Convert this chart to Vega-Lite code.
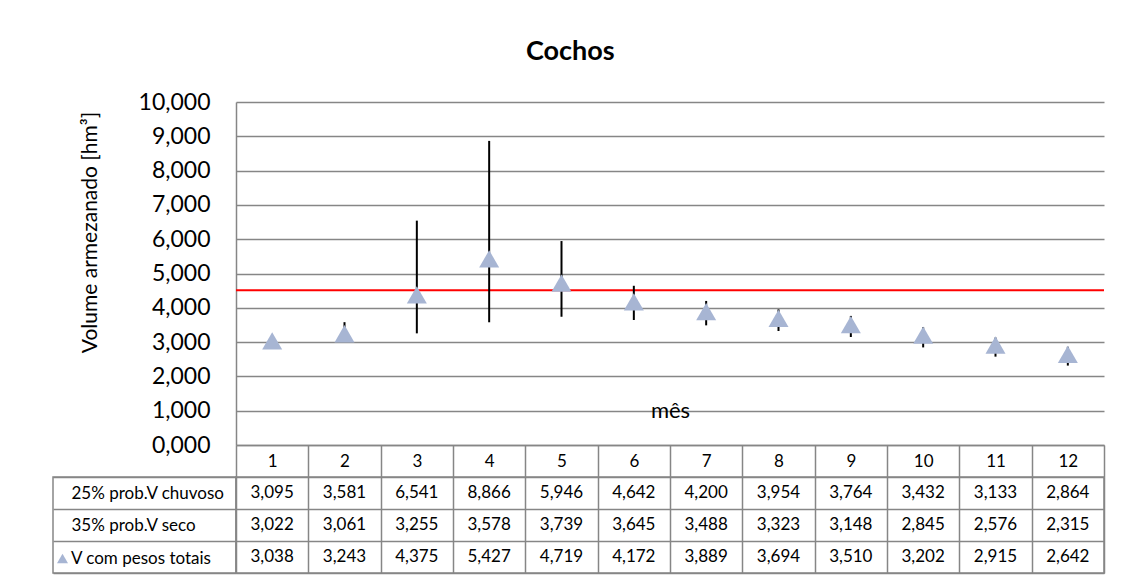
{
  "$schema": "https://vega.github.io/schema/vega-lite/v6.json",
  "padding": {"left": 51, "top": 38, "right": 5, "bottom": 5},
  "autosize": {"type": "pad"},
  "background": "white",
  "title": {"text": "Cochos", "font": "Lato", "fontSize": 27, "fontWeight": "bold", "color": "black", "anchor": "middle", "offset": 25, "dx": -8},
  "config": {
    "font": "Lato",
    "locale": {"number": {"decimal": ",", "thousands": ".", "grouping": [3], "currency": ["", ""]}},
    "view": {"stroke": null}
  },
  "datasets": {
    "meses": [
      {"mes": 1, "chuvoso": 3.095, "seco": 3.022, "total": 3.038},
      {"mes": 2, "chuvoso": 3.581, "seco": 3.061, "total": 3.243},
      {"mes": 3, "chuvoso": 6.541, "seco": 3.255, "total": 4.375},
      {"mes": 4, "chuvoso": 8.866, "seco": 3.578, "total": 5.427},
      {"mes": 5, "chuvoso": 5.946, "seco": 3.739, "total": 4.719},
      {"mes": 6, "chuvoso": 4.642, "seco": 3.645, "total": 4.172},
      {"mes": 7, "chuvoso": 4.200, "seco": 3.488, "total": 3.889},
      {"mes": 8, "chuvoso": 3.954, "seco": 3.323, "total": 3.694},
      {"mes": 9, "chuvoso": 3.764, "seco": 3.148, "total": 3.510},
      {"mes": 10, "chuvoso": 3.432, "seco": 2.845, "total": 3.202},
      {"mes": 11, "chuvoso": 3.133, "seco": 2.576, "total": 2.915},
      {"mes": 12, "chuvoso": 2.864, "seco": 2.315, "total": 2.642}
    ],
    "limite": [{"valor": 4.51}],
    "legenda": [{"serie": "V com pesos totais"}]
  },
  "bounds": "flush",
  "columns": 2,
  "spacing": {"row": 32, "column": 0},
  "resolve": {"legend": {"color": "independent", "shape": "independent"}},
  "concat": [
    {
      "width": 183,
      "height": 343,
      "data": {"values": []},
      "mark": {"type": "point"},
      "encoding": {}
    },
    {
      "width": 868,
      "height": 343,
      "layer": [
        {
          "data": {"name": "limite"},
          "mark": {"type": "rule", "color": "#ff0000", "strokeWidth": 2},
          "encoding": {
            "y": {
              "field": "valor", "type": "quantitative",
              "scale": {"domain": [0, 10], "nice": false, "zero": true},
              "axis": {
                "values": [0, 1, 2, 3, 4, 5, 6, 7, 8, 9, 10],
                "tickCount": 11,
                "labelOverlap": false,
                "format": ".3f",
                "grid": true, "gridColor": "#868686", "gridWidth": 1.5,
                "domain": true, "domainColor": "#868686", "domainWidth": 1.5,
                "ticks": false,
                "labelFont": "Lato", "labelFontSize": 23, "labelColor": "black", "labelPadding": 26,
                "title": "Volume  armezanado [hm³]",
                "titleFont": "Lato", "titleFontSize": 21, "titleFontWeight": "normal", "titleColor": "black",
                "titleY": 130, "titlePadding": 38
              }
            }
          }
        },
        {
          "data": {"name": "meses"},
          "mark": {"type": "rule", "color": "black", "strokeWidth": 2},
          "encoding": {
            "x": {
              "field": "mes", "type": "ordinal",
              "scale": {"type": "band", "paddingInner": 0, "paddingOuter": 0},
              "axis": {
                "orient": "bottom",
                "domain": true, "domainColor": "#868686", "domainWidth": 1.5,
                "ticks": true, "tickBand": "extent", "tickSize": 32, "tickColor": "#868686", "tickWidth": 1.5,
                "labelAngle": 0, "labelFont": "Lato", "labelFontSize": 17, "labelColor": "black",
                "labelBaseline": "middle", "labelPadding": -16,
                "grid": false,
                "title": "mês", "titleFont": "Lato", "titleFontSize": 22, "titleFontWeight": "normal", "titleColor": "black",
                "titleY": -34.5, "titleBaseline": "middle"
              }
            },
            "y": {"field": "seco", "type": "quantitative", "scale": {"domain": [0, 10], "nice": false, "zero": true}},
            "y2": {"field": "chuvoso"}
          }
        },
        {
          "data": {"name": "meses"},
          "mark": {"type": "point", "shape": "triangle-up", "filled": true, "size": 400, "color": "#a7b5d3", "opacity": 1},
          "encoding": {
            "x": {"field": "mes", "type": "ordinal", "scale": {"type": "band", "paddingInner": 0, "paddingOuter": 0}},
            "y": {"field": "total", "type": "quantitative", "scale": {"domain": [0, 10], "nice": false, "zero": true}}
          }
        }
      ]
    },
    {
      "width": 183,
      "height": 96,
      "view": {"stroke": "#868686", "strokeWidth": 1.5},
      "data": {"name": "legenda"},
      "mark": {"type": "point", "filled": true, "opacity": 0},
      "encoding": {
        "shape": {
          "field": "serie", "type": "nominal",
          "scale": {"range": ["triangle-up"]},
          "legend": {"orient": "bottom-left", "title": null, "offset": 6, "padding": 0, "symbolOffset": -5, "symbolSize": 121, "symbolOpacity": 1, "symbolStrokeWidth": 0, "symbolFillColor": "#a7b5d3", "labelFont": "Lato", "labelFontSize": 17, "labelColor": "black", "labelOffset": 0}
        },
        "color": {
          "field": "serie", "type": "nominal",
          "scale": {"range": ["#a7b5d3"]},
          "legend": {"orient": "bottom-left", "title": null, "offset": 6, "padding": 0, "symbolOffset": -5, "symbolSize": 121, "symbolOpacity": 1, "symbolStrokeWidth": 0, "symbolFillColor": "#a7b5d3", "labelFont": "Lato", "labelFontSize": 17, "labelColor": "black", "labelOffset": 0}
        }
      }
    },
    {
      "width": 868,
      "height": 96,
      "view": {"stroke": "#868686", "strokeWidth": 1.5},
      "data": {"name": "meses"},
      "transform": [{"fold": ["chuvoso", "seco", "total"], "as": ["serie", "valor"]}],
      "mark": {"type": "text", "font": "Lato", "fontSize": 17, "color": "black"},
      "encoding": {
        "x": {
          "field": "mes", "type": "ordinal",
          "scale": {"type": "band", "paddingInner": 0, "paddingOuter": 0},
          "axis": {"orient": "top", "labels": false, "ticks": false, "domain": false, "grid": true, "tickBand": "extent", "gridColor": "#868686", "gridWidth": 1.5, "title": null}
        },
        "y": {
          "field": "serie", "type": "nominal",
          "scale": {"domain": ["chuvoso", "seco", "total"], "type": "band", "paddingInner": 0, "paddingOuter": 0},
          "axis": {
            "grid": true, "gridColor": "#868686", "gridWidth": 1.5, "tickBand": "extent",
            "ticks": true, "tickSize": 183, "tickColor": "#868686", "tickWidth": 1.5,
            "domain": false,
            "labelAlign": "left", "labelPadding": -18, "labelFont": "Lato", "labelFontSize": 17, "labelColor": "black",
            "labelExpr": "datum.value == 'chuvoso' ? '25% prob.V chuvoso' : datum.value == 'seco' ? '35% prob.V seco' : ''",
            "title": null
          }
        },
        "text": {"field": "valor", "type": "quantitative", "format": ".3f"}
      }
    }
  ]
}
